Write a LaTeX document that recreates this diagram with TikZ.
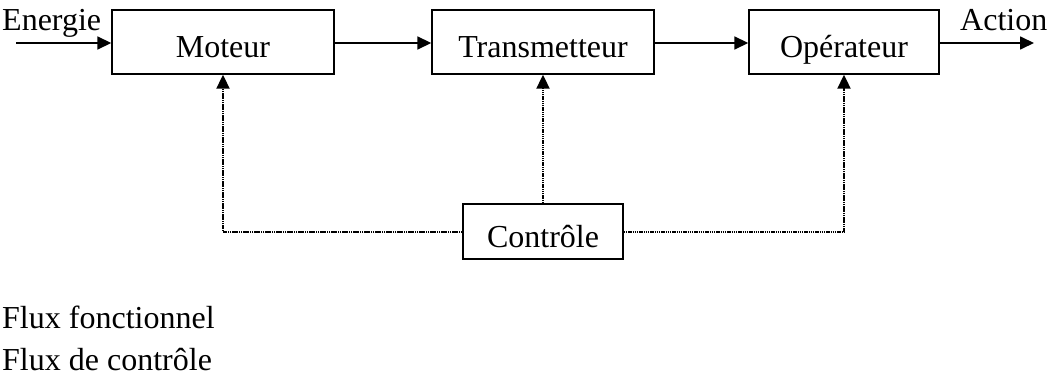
\documentclass[tikz,border=0pt]{standalone}
\usepackage{fontspec}
\setmainfont{Liberation Serif}
\usetikzlibrary{arrows.meta}
\begin{document}
\begin{tikzpicture}[x=1pt,y=-1pt,
 box/.style={draw,line width=1.4pt,inner sep=0pt,font=\fontsize{32}{38}\selectfont,text height=31pt,text depth=0pt},
 lbl/.style={inner sep=0pt,anchor=base west,font=\fontsize{32}{38}\selectfont},
 flow/.style={line width=1.7pt,-{Triangle[length=14pt,width=13pt]}},
 ctrl/.style={line width=2pt,dash pattern=on 1.5pt off 0.7pt,-{Triangle[length=14pt,width=13pt]}}]
\useasboundingbox (0,0) rectangle (1049,382);
\node[box,minimum width=222pt,minimum height=64pt] (mot) at (223,42) {Moteur};
\node[box,minimum width=222pt,minimum height=64pt] (tra) at (543,42) {Transmetteur};
\node[box,minimum width=190pt,minimum height=64pt] (ope) at (844,42) {Op\'erateur};
\node[box,minimum width=160pt,minimum height=55pt] (ctl) at (543,231.5) {Contr\^ole};
\node[lbl] (en) at (2,31) {Energie};
\node[lbl] (ac) at (960,31) {Action};
\node[lbl] (l1) at (2,328) {Flux fonctionnel};
\node[lbl] (l2) at (2,370) {Flux de contr\^ole};
\coordinate (ein) at (16,43);
\coordinate (aout) at (1034,43);
\draw[flow] (ein) -- (ein -| mot.west);
\draw[flow] (mot.east |- ein) -- (tra.west |- ein);
\draw[flow] (tra.east |- ein) -- (ope.west |- ein);
\draw[flow] (ope.east |- aout) -- (aout);
\draw[ctrl] (ctl.west) -| (mot.south);
\draw[ctrl] (ctl.north) -- (tra.south);
\draw[ctrl] (ctl.east) -| (ope.south);
\end{tikzpicture}
\end{document}
